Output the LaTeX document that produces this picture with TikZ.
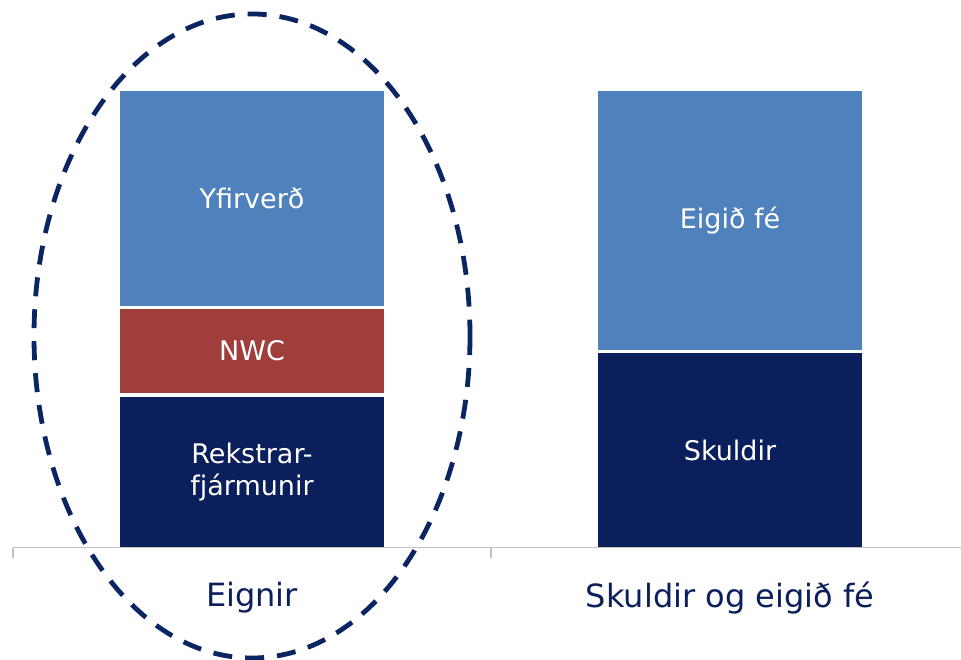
\documentclass[tikz,border=0pt]{standalone}
\usepackage{fontspec}
\setmainfont{DejaVu Sans}
\definecolor{navy}{HTML}{0B1F5C}
\definecolor{lightblue}{HTML}{4F81BD}
\definecolor{darkred}{HTML}{A03E3C}
\definecolor{ringblue}{HTML}{0B2462}
\definecolor{axisgray}{HTML}{C0C0C0}
\tikzset{
  seg/.style={draw=white, line width=2.5pt, minimum width=267pt, inner sep=0pt,
    text=white, align=center, font=\fontsize{27}{32}\selectfont},
  catlabel/.style={text=navy, font=\fontsize{32}{36}\selectfont},
}
\begin{document}
\begin{tikzpicture}[x=1pt,y=-1pt]
    \useasboundingbox (0,0) rectangle (961,660) ;
    % Eignir
    \node [seg, fill=navy, minimum height=153pt] (rek) at (252,472) {Rekstrar-\\fjármunir} ;
    \node [seg, fill=darkred, minimum height=87pt] (nwc) at (252,351) {NWC} ;
    \node [seg, fill=lightblue, minimum height=218pt] (yfir) at (252,198.5) {Yfirverð} ;
    % Skuldir og eigid fe
    \node [seg, fill=navy, minimum height=196pt] (skuld) at (730,450) {Skuldir} ;
    \node [seg, fill=lightblue, minimum height=262pt] (eigid) at (730,220.5) {Eigið fé} ;
    % axis
    \draw [axisgray, line width=1.2pt] (13,547.5) -- (961,547.5) ;
    \foreach \x in {13,491} {
      \draw [axisgray, line width=1.2pt] (\x,547.5) -- (\x,558) ;
    }
    \node [catlabel] (eignir) at (252,598) {Eignir} ;
    \node [catlabel] (skef) at (730,598) {Skuldir og eigið fé} ;
    % ring
    \draw [ringblue, line width=4.8pt, dash pattern=on 19pt off 13pt] (252,336) ellipse [x radius=218, y radius=322] ;
  \end{tikzpicture}
\end{document}
